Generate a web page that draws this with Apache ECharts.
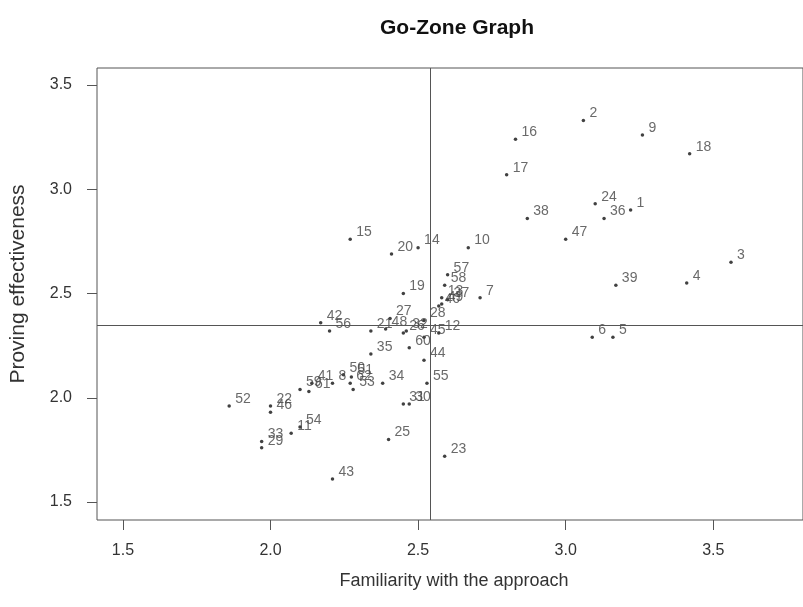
<!DOCTYPE html>
<html>
<head>
<meta charset="utf-8">
<script src="https://cdn.jsdelivr.net/npm/echarts@6/dist/echarts.min.js"></script>
<style>html,body{margin:0;padding:0;background:#fff}#c{width:803px;height:607px}</style>
</head>
<body>
<div id="c"></div>
<script>
const pointLabels = ['1','2','3','4','5','6','7','8','9','10','11','12','13','14','15','16','17','18','19','20','21','22','23','24','25','26','27','28','29','30','31','32','33','34','35','36','37','38','39','40','41','42','43','44','45','46','47','48','49','50','51','52','53','54','55','56','57','58','59','60','61','62'];
const familiarity = [3.22,3.06,3.56,3.41,3.16,3.09,2.71,2.21,3.26,2.67,2.07,2.57,2.58,2.50,2.27,2.83,2.80,3.42,2.45,2.41,2.34,2.00,2.59,3.10,2.40,2.45,2.405,2.52,1.97,2.47,2.45,2.46,1.97,2.38,2.34,3.13,2.60,2.87,3.17,2.57,2.14,2.17,2.21,2.52,2.52,2.00,3.00,2.39,2.58,2.247,2.274,1.86,2.28,2.10,2.53,2.20,2.60,2.59,2.10,2.47,2.13,2.27];
const effectiveness = [2.90,3.33,2.65,2.55,2.29,2.29,2.48,2.07,3.26,2.72,1.83,2.31,2.48,2.72,2.76,3.24,3.07,3.17,2.50,2.69,2.32,1.96,1.72,2.93,1.80,2.31,2.38,2.37,1.76,1.97,1.97,2.32,1.79,2.07,2.21,2.86,2.47,2.86,2.54,2.44,2.07,2.36,1.61,2.18,2.29,1.93,2.76,2.33,2.45,2.11,2.10,1.96,2.04,1.86,2.07,2.32,2.59,2.54,2.04,2.24,2.03,2.07];
const meanFamiliarity = 2.537;
const meanEffectiveness = 2.354;
const tickValues = [1.5, 2.0, 2.5, 3.0, 3.5];
const tickLabels = ['1.5', '2.0', '2.5', '3.0', '3.5'];

const data = pointLabels.map((n, i) => [familiarity[i], effectiveness[i], n]);
const FONT = "'Liberation Sans', Arial, sans-serif";

const chart = echarts.init(document.getElementById('c'), null, {renderer: 'canvas'});
chart.setOption({
  animation: false,
  backgroundColor: '#fff',
  grid: {left: 97, top: 68, width: 708, height: 452, show: true, borderColor: '#555', borderWidth: 1, backgroundColor: 'transparent'},
  xAxis: {
    type: 'value', min: 1.4122, max: 3.804,
    axisLine: {show: false}, splitLine: {show: false},
    axisTick: {show: true, length: 10, lineStyle: {color: '#555'}, customValues: tickValues},
    axisLabel: {show: true, margin: 23, color: '#333', fontSize: 16, fontFamily: FONT, customValues: tickValues,
      formatter: v => tickLabels[tickValues.findIndex(t => Math.abs(t - v) < 1e-6)] || ''}
  },
  yAxis: {
    type: 'value', min: 1.4137, max: 3.5815,
    axisLine: {show: false}, splitLine: {show: false},
    axisTick: {show: true, length: 10, lineStyle: {color: '#555'}, customValues: tickValues},
    axisLabel: {show: true, margin: 25, color: '#333', fontSize: 16, fontFamily: FONT, customValues: tickValues,
      formatter: v => tickLabels[tickValues.findIndex(t => Math.abs(t - v) < 1e-6)] || ''}
  },
  graphic: [
    {type: 'text', x: 457, y: 28, style: {text: 'Go-Zone Graph', font: "bold 21px " + FONT, fill: '#111', textAlign: 'center', textVerticalAlign: 'middle'}},
    {type: 'text', x: 454, y: 581, style: {text: 'Familiarity with the approach', font: "18px " + FONT, fill: '#333', textAlign: 'center', textVerticalAlign: 'middle'}},
    {type: 'text', x: 18, y: 284, rotation: Math.PI / 2, style: {text: 'Proving effectiveness', font: "21px " + FONT, fill: '#333', textAlign: 'center', textVerticalAlign: 'middle'}}
  ],
  series: [{
    type: 'scatter',
    data: data,
    symbol: 'circle',
    symbolSize: 3.5,
    itemStyle: {color: '#111'},
    label: {show: true, position: [7.75, -5.25], align: 'left', verticalAlign: 'middle', formatter: p => p.value[2], color: '#444', fontSize: 14, fontFamily: FONT},
    labelLayout: {hideOverlap: false},
    markLine: {
      silent: true, symbol: 'none', label: {show: false},
      lineStyle: {color: '#555', width: 1, type: 'solid'},
      data: [{xAxis: meanFamiliarity}, {yAxis: meanEffectiveness}]
    }
  }]
});
</script>
</body>
</html>
